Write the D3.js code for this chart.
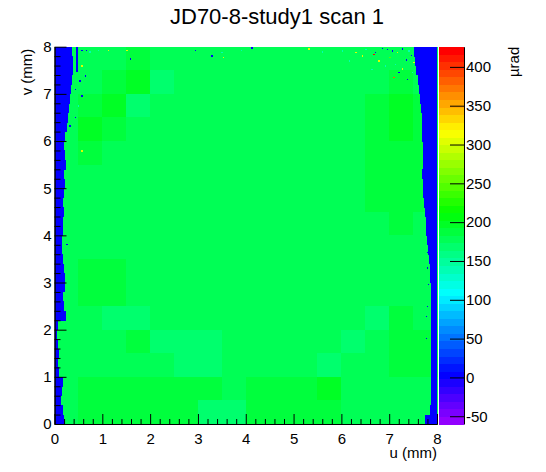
<!DOCTYPE html>
<html>
<head>
<meta charset="utf-8">
<script src="https://cdn.jsdelivr.net/npm/d3@7"></script>
<style>
  body { margin: 0; background: #fff; }
  text { font-family: "Liberation Sans", Arial, sans-serif; fill: #000; }
</style>
</head>
<body>
<script>
// histogram ranges
const uRange = [0, 8];
const vRange = [0, 8];
const zRange = [-60, 426];
const nContours = 50;

const uTicks = [0, 1, 2, 3, 4, 5, 6, 7, 8];
const vTicks = [0, 1, 2, 3, 4, 5, 6, 7, 8];
const zTicks = [-50, 0, 50, 100, 150, 200, 250, 300, 350, 400];

// coarse map of the deflection (µrad), 0.5 mm cells, top row is v 7.5-8
const cellSize = 0.5;
const field = [
  [178,178,178,190,176,178,178,178,178,178,178,178,176,175,176,178],
  [178,180,190,195,170,178,178,178,178,178,178,178,178,182,186,178],
  [178,192,200,172,178,178,178,178,178,178,178,178,178,188,197,186],
  [180,200,192,178,178,178,178,178,178,178,178,178,178,188,197,188],
  [178,186,180,178,178,178,178,178,178,178,178,178,180,185,190,186],
  [178,178,178,178,178,178,178,178,178,178,178,178,180,186,186,184],
  [178,178,178,178,178,178,178,178,178,178,178,178,178,184,186,184],
  [178,178,178,178,178,178,178,178,178,178,178,178,178,182,184,182],
  [178,178,178,178,178,178,178,178,178,178,178,178,178,178,180,178],
  [178,186,184,178,178,178,178,178,178,178,178,178,178,178,178,178],
  [178,184,186,178,178,178,178,178,178,178,178,178,178,176,175,178],
  [178,178,172,172,178,178,178,178,178,178,178,178,176,172,186,180],
  [178,178,178,188,172,170,172,178,178,178,178,178,170,176,186,184],
  [178,178,178,178,178,170,172,178,178,178,178,170,176,178,184,184],
  [178,186,186,186,186,186,190,178,186,186,192,197,178,178,182,180],
  [178,184,184,184,184,184,172,172,186,186,188,192,180,178,178,178]
];

// empty (zero) region at both sides, 0.2 mm rows from the top
const edgeStep = 0.2;
const edgeValue = 0;
const leftEdge = [
  0.37,0.39,0.39,0.36,0.35,0.33,0.31,0.29,0.26,0.22,
  0.19,0.22,0.24,0.19,0.22,0.20,0.17,0.20,0.18,0.17,
  0.16,0.16,0.18,0.19,0.23,0.22,0.18,0.19,0.25,0.08,
  0.05,0.08,0.09,0.08,0.10,0.17,0.15,0.14,0.17,0.20
];
const rightEdge = [
  7.52,7.55,7.57,7.60,7.63,7.65,7.67,7.68,7.68,7.69,
  7.70,7.70,7.70,7.69,7.70,7.71,7.72,7.74,7.76,7.78,
  7.80,7.82,7.84,7.85,7.86,7.87,7.88,7.88,7.88,7.88,
  7.88,7.88,7.88,7.88,7.88,7.88,7.88,7.88,7.86,7.74
];

// dead strip near the top left: u0, u1, v0, v1
const deadStrip = [0.46, 0.49, 7.47, 8];

// isolated noisy bins: [u, v, value]
const specks = [
  [0.56,7.90,0],[0.66,7.90,0],[0.73,7.87,140],[0.90,7.90,140],[1.12,7.90,300],
  [1.50,7.90,300],[1.57,7.72,0],[0.56,7.58,300],[0.63,7.36,0],[0.52,7.26,0],
  [0.42,7.08,0],[0.56,6.94,0],[0.49,6.73,140],[0.42,6.48,0],[0.31,6.30,0],
  [0.56,5.77,300],[2.93,7.90,0],[3.28,7.79,0],[3.49,7.86,140],[3.52,7.75,300],
  [3.90,7.90,140],[4.12,7.96,0],[5.31,7.94,300],[5.59,7.87,140],[6.01,7.89,140],
  [6.29,7.86,300],[6.50,7.92,140],[6.67,7.82,420],[6.70,7.86,0],[6.77,7.68,300],
  [6.95,7.92,0],[7.05,7.89,0],[7.16,7.86,300],[7.26,7.94,0],[7.40,7.89,140],
  [7.12,7.61,140],[7.26,7.51,300],[7.37,7.29,0],[7.19,7.44,0],[6.91,7.58,140],
  [6.63,7.50,140],[7.09,7.33,380],[7.47,7.44,140],[7.50,7.65,300],[6.43,7.79,300],
  [6.15,7.68,140],[7.45,7.80,0],[7.35,7.70,0],[7.00,7.75,250],[6.85,7.95,0],
  [7.79,3.80,0],[7.80,3.62,0],[7.79,3.29,0],[7.81,2.94,0],[7.79,2.48,0],
  [7.77,2.27,0],[7.76,1.80,0],[0.25,3.79,0],[7.70,7.10,0],[7.72,6.60,0]
];
const speckSize = 0.03;

const W = 546, H = 472;
const plot = { left: 54.5, right: 437, top: 46.7, bottom: 424 };
const bar = { left: 439, right: 464 };

const svg = d3.select("body").append("svg")
  .attr("width", W)
  .attr("height", H);

const x = d3.scaleLinear().domain(uRange).range([plot.left, plot.right]);
const y = d3.scaleLinear().domain(vRange).range([plot.bottom, plot.top]);
const zScale = d3.scaleLinear().domain(zRange).range([plot.bottom, plot.top]);

// ROOT "pretty palette": 50 hues from violet to red
function zColor(z) {
  let i = Math.floor((z - zRange[0]) / (zRange[1] - zRange[0]) * nContours);
  i = Math.max(0, Math.min(nContours - 1, i));
  const hue = 280 - (i + 1) * 280 / nContours;
  return d3.hsl(hue, 1, 0.5).toString();
}

const map = svg.append("g").attr("shape-rendering", "crispEdges");

// field cells
const cells = [];
field.forEach((row, r) => row.forEach((z, c) => {
  cells.push({ u: c * cellSize, v: vRange[1] - (r + 1) * cellSize, z: z });
}));
map.selectAll("rect.cell")
  .data(cells)
  .enter().append("rect")
  .attr("class", "cell")
  .attr("x", d => x(d.u))
  .attr("y", d => y(d.v + cellSize))
  .attr("width", d => x(d.u + cellSize) - x(d.u) + 0.5)
  .attr("height", d => y(d.v) - y(d.v + cellSize) + 0.5)
  .attr("fill", d => zColor(d.z));

// empty edges
map.selectAll("rect.left")
  .data(leftEdge)
  .enter().append("rect")
  .attr("x", x(uRange[0]))
  .attr("y", (d, i) => y(vRange[1] - i * edgeStep))
  .attr("width", d => x(d) - x(uRange[0]))
  .attr("height", y(0) - y(edgeStep) + 0.5)
  .attr("fill", zColor(edgeValue));

map.selectAll("rect.right")
  .data(rightEdge)
  .enter().append("rect")
  .attr("x", d => x(d))
  .attr("y", (d, i) => y(vRange[1] - i * edgeStep))
  .attr("width", d => x(uRange[1]) - x(d))
  .attr("height", y(0) - y(edgeStep) + 0.5)
  .attr("fill", zColor(edgeValue));

map.append("rect")
  .attr("x", x(deadStrip[0]))
  .attr("y", y(deadStrip[3]))
  .attr("width", x(deadStrip[1]) - x(deadStrip[0]))
  .attr("height", y(deadStrip[2]) - y(deadStrip[3]))
  .attr("fill", zColor(edgeValue));

map.selectAll("rect.speck")
  .data(specks)
  .enter().append("rect")
  .attr("x", d => x(d[0]))
  .attr("y", d => y(d[1] + speckSize))
  .attr("width", x(speckSize) - x(0))
  .attr("height", y(0) - y(speckSize))
  .attr("fill", d => zColor(d[2]));

// palette bar
const bands = d3.range(nContours).map(i => zRange[0] + i * (zRange[1] - zRange[0]) / nContours);
const step = (zRange[1] - zRange[0]) / nContours;
svg.append("g").attr("shape-rendering", "crispEdges")
  .selectAll("rect")
  .data(bands)
  .enter().append("rect")
  .attr("x", bar.left)
  .attr("y", d => zScale(d + step))
  .attr("width", bar.right - bar.left)
  .attr("height", d => zScale(d) - zScale(d + step) + 0.5)
  .attr("fill", d => zColor(d + step / 2));

// axes
const fmt = d => String(d);
const minorU = d3.range(0, 8.001, 0.2).filter(d => Math.abs(d - Math.round(d)) > 1e-6);
const minorV = minorU;

function styleAxis(g) {
  g.selectAll("path, line").attr("stroke", "#000").attr("stroke-width", 1);
  g.selectAll("text").style("font-size", "15px").attr("fill", "#000")
    .style("font-family", '"Liberation Sans", Arial, sans-serif');
}

svg.append("g")
  .attr("transform", `translate(0,${plot.bottom})`)
  .call(d3.axisBottom(x).tickValues(minorU).tickSize(-5).tickSizeOuter(0).tickFormat(""))
  .call(styleAxis);
svg.append("g")
  .attr("transform", `translate(0,${plot.bottom})`)
  .call(d3.axisBottom(x).tickValues(uTicks).tickSize(-10).tickSizeOuter(0).tickPadding(9).tickFormat(fmt))
  .call(styleAxis);

svg.append("g")
  .attr("transform", `translate(${plot.left},0)`)
  .call(d3.axisLeft(y).tickValues(minorV).tickSize(-6).tickSizeOuter(0).tickFormat(""))
  .call(styleAxis);
svg.append("g")
  .attr("transform", `translate(${plot.left},0)`)
  .call(d3.axisLeft(y).tickValues(vTicks).tickSize(-12).tickSizeOuter(0).tickPadding(3).tickFormat(fmt))
  .call(styleAxis);

svg.append("g")
  .attr("transform", `translate(${bar.right},0)`)
  .call(d3.axisRight(zScale).tickValues(zTicks).tickSize(-14).tickSizeOuter(0).tickPadding(2).tickFormat(fmt))
  .call(styleAxis);

// titles
svg.append("text")
  .attr("x", 277)
  .attr("y", 24)
  .style("text-anchor", "middle")
  .style("font-size", "22px")
  .text("JD70-8-study1 scan 1");

svg.append("text")
  .attr("x", plot.right)
  .attr("y", 458)
  .style("text-anchor", "end")
  .style("font-size", "15px")
  .text("u (mm)");

svg.append("text")
  .attr("transform", `translate(32,${plot.top + 2}) rotate(-90)`)
  .style("text-anchor", "end")
  .style("font-size", "15px")
  .text("v (mm)");

svg.append("text")
  .attr("transform", `translate(519,${plot.top}) rotate(-90)`)
  .style("text-anchor", "end")
  .style("font-size", "15px")
  .text("µrad");
</script>
</body>
</html>
